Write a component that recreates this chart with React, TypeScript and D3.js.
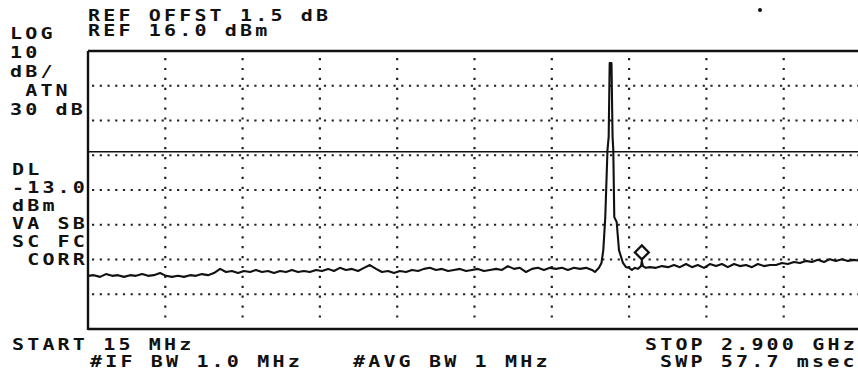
import { useEffect, useRef } from 'react';
import * as d3 from 'd3';

const width = 858;
const height = 375;

// analyzer settings shown on screen
const startMHz = 15;
const stopMHz = 2900;
const refDbm = 16;
const dbPerDiv = 10;
const xDivs = 10;
const yDivs = 8;
const displayLineDbm = -13;

// trace, [MHz, dBm]
const noiseLow: [number, number][] = [
  [15, -48.7], [37, -48.5], [60, -49.0], [82, -48.2], [105, -48.7], [127, -48.5], [149, -49.0],
  [172, -48.5], [194, -48.7], [217, -48.2], [239, -48.7], [261, -48.5], [284, -47.9], [306, -48.7],
  [328, -49.0], [351, -48.7], [373, -49.0], [396, -48.5], [418, -48.7], [440, -48.2], [463, -48.5],
  [485, -47.9], [508, -46.7], [530, -47.6], [552, -47.3], [575, -47.9], [597, -47.3], [620, -47.6],
  [642, -47.0], [664, -47.6], [687, -47.3], [709, -47.9], [732, -47.3], [754, -47.6], [776, -47.0],
  [799, -47.6], [821, -47.3], [843, -47.6], [866, -47.0], [888, -47.3], [911, -46.7], [933, -47.3],
  [955, -46.4], [978, -47.0], [1000, -46.7], [1023, -47.3], [1045, -46.4], [1067, -45.6], [1090, -46.7],
  [1112, -47.6], [1135, -47.3], [1157, -47.9], [1179, -47.3], [1202, -47.6], [1224, -47.0], [1247, -47.3],
  [1269, -46.7], [1291, -46.4], [1314, -47.0], [1336, -46.7], [1359, -47.3], [1381, -47.0], [1403, -46.7],
  [1426, -47.3], [1448, -47.0], [1470, -46.7], [1493, -47.3], [1515, -47.0], [1538, -46.7], [1560, -47.0],
  [1582, -45.9], [1605, -46.7], [1627, -46.4], [1650, -47.6], [1672, -46.7], [1694, -46.4], [1717, -47.0],
  [1739, -46.4], [1762, -46.7], [1784, -46.4], [1806, -47.0], [1829, -46.4], [1851, -46.7], [1874, -46.4],
  [1896, -47.0], [1907, -47.6],
];

const carrier: [number, number][] = [
  [1922, -46.4], [1931.4, -45.0], [1938.2, -41.3], [1945.6, -31.8], [1953.8, -12.5], [1958.3, -8.7],
  [1962.0, 12.5], [1968.8, 12.5],
  [1972.8, -8.7], [1975.5, -12.5], [1979.2, -31.8], [1988.1, -33.2], [1996.7, -41.3], [2011.6, -45.0],
  [2023, -46.2],
];

const noiseHigh: [number, number][] = [
  [2034, -46.4], [2045, -47.0], [2056, -46.4], [2067, -46.7], [2079, -45.9], [2082, -44.4], [2086, -45.9],
  [2097, -46.4], [2112, -46.2], [2135, -46.4], [2157, -45.9], [2180, -46.2], [2202, -45.6], [2224, -46.2],
  [2247, -45.3], [2269, -46.2], [2291, -45.6], [2314, -46.4], [2336, -45.3], [2359, -45.9], [2381, -45.3],
  [2403, -46.2], [2426, -45.3], [2448, -45.9], [2471, -45.6], [2493, -46.2], [2515, -45.3], [2538, -45.9],
  [2560, -45.6], [2583, -45.6], [2605, -45.0], [2627, -45.3], [2650, -44.7], [2672, -45.0], [2694, -44.4],
  [2717, -44.7], [2739, -44.1], [2762, -44.7], [2784, -43.9], [2806, -44.4], [2829, -43.9], [2851, -44.4],
  [2873, -44.1], [2900, -44.4],
];

const markerPoint: [number, number] = [2082, -44.4];

// screen annotations
const headerLines = ['REF OFFST 1.5 dB', 'REF 16.0 dBm'];
const scaleLabels = ['LOG', '10', 'dB/', ' ATN', '30 dB'];
const dlLabels = ['DL', '-13.0', 'dBm', 'VA SB', 'SC FC', ' CORR'];
const startLabel = 'START 15 MHz';
const stopLabel = 'STOP 2.900 GHz';
const ifBwLabel = '#IF BW 1.0 MHz';
const avgBwLabel = '#AVG BW 1 MHz';
const sweepLabel = 'SWP 57.7 msec';

export default function App() {
  const svgRef = useRef<SVGSVGElement>(null);

  useEffect(() => {
    if (!svgRef.current) return;
    const svg = d3.select(svgRef.current);
    svg.selectAll('*').remove();

    const left = 88;
    const top = 51;
    const right = 861;
    const bottom = 329;

    const x = d3.scaleLinear().domain([startMHz, stopMHz]).range([left, right]);
    const y = d3.scaleLinear()
      .domain([refDbm - dbPerDiv * yDivs, refDbm])
      .range([bottom, top]);

    const ink = '#111';

    // dotted graticule
    const vStep = (stopMHz - startMHz) / xDivs;
    const grid = svg.append('g');
    d3.range(1, yDivs).forEach(i => {
      const yy = y(refDbm - i * dbPerDiv);
      grid.append('line')
        .attr('x1', left + 4).attr('x2', width)
        .attr('y1', yy).attr('y2', yy)
        .attr('stroke', '#222')
        .attr('stroke-width', 2.2)
        .attr('stroke-dasharray', '2.2 5.53');
    });
    d3.range(1, xDivs).forEach(i => {
      const xx = x(startMHz + i * vStep);
      grid.append('line')
        .attr('x1', xx).attr('x2', xx)
        .attr('y1', top + 7).attr('y2', bottom - 4)
        .attr('stroke', '#222')
        .attr('stroke-width', 2.2)
        .attr('stroke-dasharray', '2.2 7.7');
    });

    // frame
    const frame = svg.append('g').attr('stroke', ink).attr('stroke-width', 2.4);
    frame.append('line').attr('x1', left).attr('x2', width).attr('y1', top).attr('y2', top);
    frame.append('line').attr('x1', left).attr('x2', width).attr('y1', bottom).attr('y2', bottom);
    frame.append('line').attr('x1', left).attr('x2', left).attr('y1', top).attr('y2', bottom + 1);

    // display line
    svg.append('line')
      .attr('x1', left).attr('x2', width)
      .attr('y1', y(displayLineDbm)).attr('y2', y(displayLineDbm))
      .attr('stroke', ink)
      .attr('stroke-width', 1.6);

    // trace
    const trace = [...noiseLow, ...carrier, ...noiseHigh];
    const line = d3.line<[number, number]>()
      .x(d => x(d[0]))
      .y(d => y(d[1]));
    svg.append('path')
      .datum(trace)
      .attr('d', line)
      .attr('fill', 'none')
      .attr('stroke', ink)
      .attr('stroke-width', 2.1)
      .attr('stroke-linejoin', 'round');

    // marker diamond
    const mx = x(markerPoint[0]);
    const my = y(markerPoint[1]) - 8.5;
    const r = 7;
    svg.append('path')
      .attr('d', `M${mx},${my - r}L${mx + r},${my}L${mx},${my + r}L${mx - r},${my}Z`)
      .attr('fill', '#fff')
      .attr('stroke', ink)
      .attr('stroke-width', 2.2);

    // stray dot top right
    svg.append('circle').attr('cx', 760).attr('cy', 10).attr('r', 2).attr('fill', ink);

    // annotations
    const label = (tx: number, ty: number, s: string) => {
      svg.append('text')
        .attr('transform', `translate(${tx},${ty}) scale(1.25,1)`)
        .style('font-family', '"DejaVu Sans Mono", monospace')
        .style('font-size', '16px')
        .style('font-weight', 'bold')
        .style('letter-spacing', '2.53px')
        .style('white-space', 'pre')
        .attr('fill', ink)
        .text(s);
    };

    label(88, 21, headerLines[0]);
    label(88, 36, headerLines[1]);
    scaleLabels.forEach((s, i) => label(10, 39 + i * 19, s));
    dlLabels.forEach((s, i) => label(12, 175 + i * 18, s));
    label(12, 350, startLabel);
    label(645, 350, stopLabel);
    label(90, 367, ifBwLabel);
    label(353, 367, avgBwLabel);
    label(660, 367, sweepLabel);
  }, []);

  return (
    <svg
      ref={svgRef}
      width={width}
      height={height}
      viewBox={`0 0 ${width} ${height}`}
      style={{ position: 'absolute', left: 0, top: 0, background: '#fff' }}
    />
  );
}
